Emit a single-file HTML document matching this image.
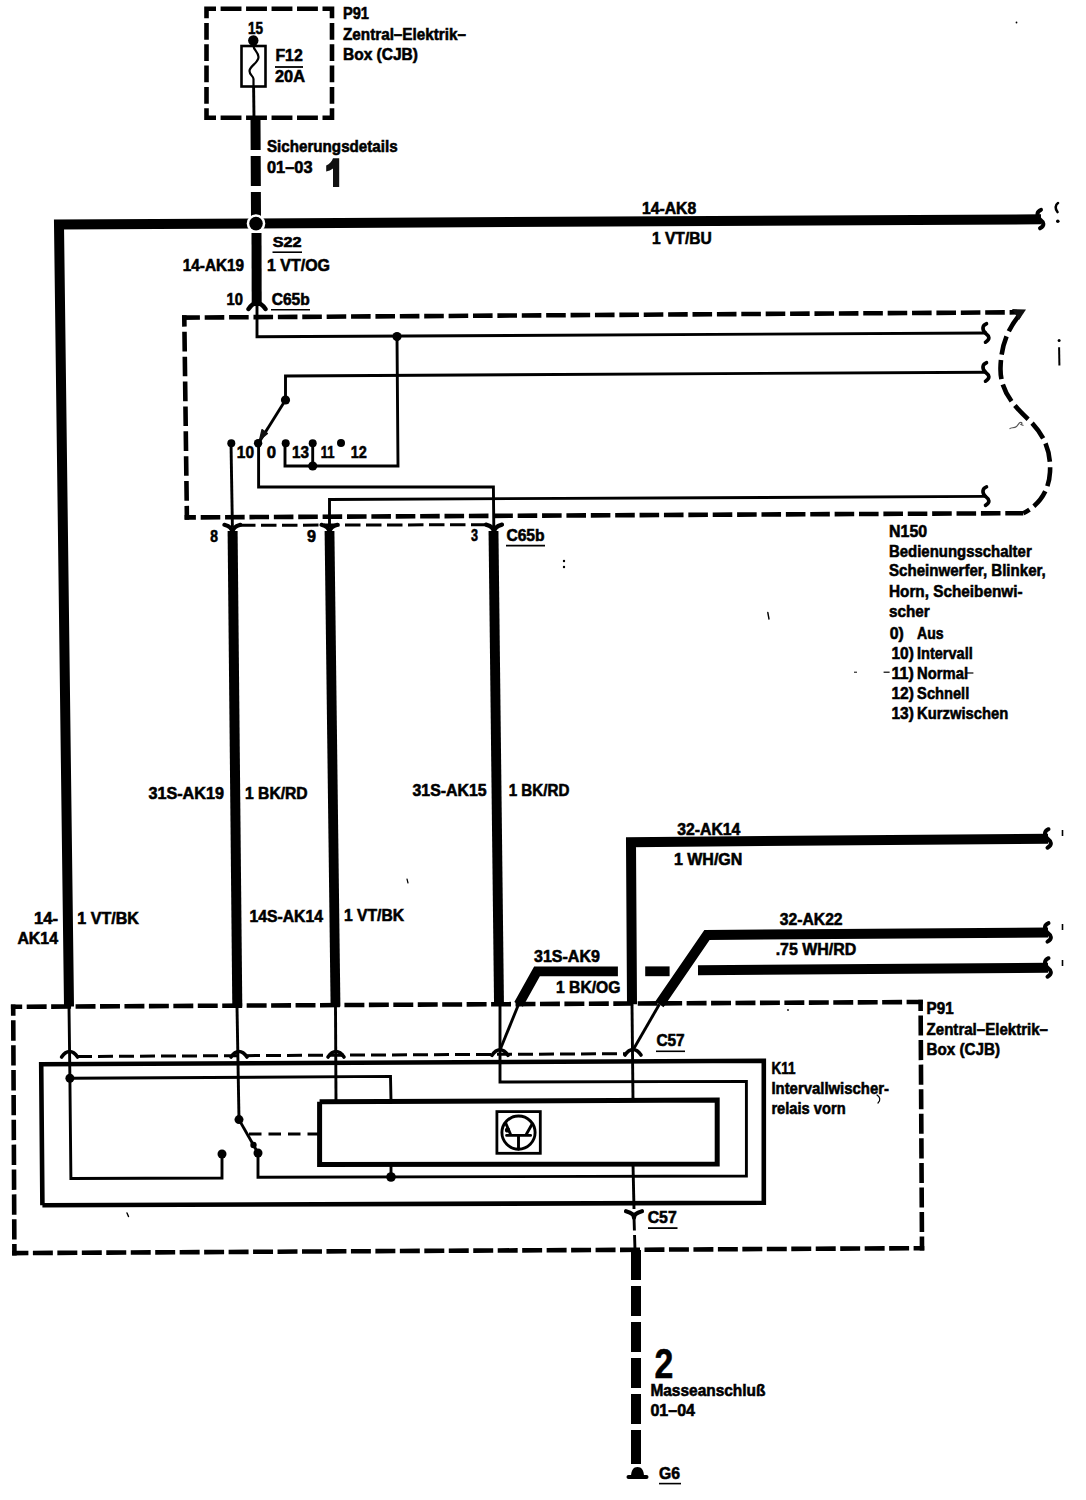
<!DOCTYPE html>
<html><head><meta charset="utf-8"><title>Wiring diagram</title>
<style>
html,body{margin:0;padding:0;background:#fff;}
body{width:1086px;height:1500px;overflow:hidden;}
svg{display:block;}
text{font-family:"Liberation Sans",sans-serif;font-weight:bold;fill:#000;stroke:#000;stroke-width:0.6px;}
</style></head><body>
<svg width="1086" height="1500" viewBox="0 0 1086 1500" stroke="#000" fill="none">
<rect x="0" y="0" width="1086" height="1500" fill="#fff" stroke="none"/>
<path d="M204.2,8.8 L216,8.8 M220.6,8.8 L241.47,8.8 M246.07,8.8 L266.95,8.8 M271.55,8.8 L292.43,8.8 M297.02,8.8 L317.9,8.8 M322.5,8.8 L334.3,8.8 M332,6.5 L332,18.3 M332,22.9 L332,39.65 M332,44.25 L332,61 M332,65.6 L332,82.35 M332,86.95 L332,103.7 M332,108.3 L332,120.1 M334.3,117.8 L322.5,117.8 M317.9,117.8 L297.02,117.8 M292.43,117.8 L271.55,117.8 M266.95,117.8 L246.07,117.8 M241.47,117.8 L220.6,117.8 M216,117.8 L204.2,117.8 M206.5,120.1 L206.5,108.3 M206.5,103.7 L206.5,86.95 M206.5,82.35 L206.5,65.6 M206.5,61 L206.5,44.25 M206.5,39.65 L206.5,22.9 M206.5,18.3 L206.5,6.5" stroke-width="4.6" stroke-linecap="butt"/>
<rect x="241.5" y="46" width="24" height="40.5" fill="none" stroke-width="2.6"/>
<path d="M253.5,46 C253.5,50 258.5,52 258.5,57 C258.5,63 249.5,66 249.5,71 C249.5,75 253.5,76 253.5,79 L253.5,86.5" stroke-width="2.2" stroke-linecap="round" stroke-linejoin="round" fill="none"/>
<circle cx="253.3" cy="40.5" r="5.2" fill="#000" stroke="none"/>
<path d="M253.6,86.5 L254,118" stroke-width="2.9" stroke-linecap="butt" stroke-linejoin="miter"/>
<text x="248" y="33.6" font-size="17.14" textLength="15" lengthAdjust="spacingAndGlyphs">15</text>
<text x="275.4" y="61" font-size="17.14" textLength="27.3" lengthAdjust="spacingAndGlyphs">F12</text>
<path d="M275,67 L303,67" stroke-width="1.8" stroke-linecap="butt" stroke-linejoin="miter"/>
<text x="275" y="81.7" font-size="17.14" textLength="30.01" lengthAdjust="spacingAndGlyphs">20A</text>
<text x="343" y="18.9" font-size="17.14" textLength="26" lengthAdjust="spacingAndGlyphs">P91</text>
<text x="343" y="39.8" font-size="17.14" textLength="122.99" lengthAdjust="spacingAndGlyphs">Zentral–Elektrik–</text>
<text x="343" y="60.4" font-size="17.14" textLength="74.99" lengthAdjust="spacingAndGlyphs">Box (CJB)</text>
<path d="M255.5,120 L256,217" stroke-width="10" stroke-linecap="butt" stroke-linejoin="miter" stroke-dasharray="30 6" stroke-dashoffset="0"/>
<text x="267" y="152" font-size="17.14" textLength="130.6" lengthAdjust="spacingAndGlyphs">Sicherungsdetails</text>
<text x="267" y="172.6" font-size="17.14" textLength="45.5" lengthAdjust="spacingAndGlyphs">01–03</text>
<path d="M333,158.3 L339.2,158.3 L339.2,187 L333,187 L333,168.5 C331,170 328.5,171 326.2,171.5 L326.2,165.5 C329.5,164 332,161.5 333,158.3 Z" fill="#111" stroke="none"/>
<path d="M1041,219.3 L59,224.5 L69,1006.5" stroke-width="10" stroke-linecap="butt" stroke-linejoin="miter"/>
<path d="M1041,209.8 C1037,211.3 1036,215.3 1040,219.3 C1044,222.3 1045,225.3 1040,228.3" stroke-width="4" stroke-linecap="round" stroke-linejoin="round" fill="none"/>
<path d="M1058,203 C1055,205 1055,209 1057.5,212" stroke-width="2.6" stroke-linecap="round" stroke-linejoin="round" fill="none"/>
<circle cx="1057.8" cy="221.3" r="1.8" fill="#000" stroke="none"/>
<circle cx="256" cy="223.6" r="9.3" fill="#fff" stroke="none"/>
<circle cx="256" cy="223.6" r="6.8" fill="#000" stroke="none"/>
<text x="642" y="214.3" font-size="17.14" textLength="54.2" lengthAdjust="spacingAndGlyphs">14-AK8</text>
<text x="652" y="243.6" font-size="17.14" textLength="59.7" lengthAdjust="spacingAndGlyphs">1 VT/BU</text>
<path d="M256.5,233 L256.7,306" stroke-width="10" stroke-linecap="butt" stroke-linejoin="miter"/>
<path d="M248.5,309 C252,304 254,303 257,303 C260,303 262,304 265.5,309" stroke-width="4.4" stroke-linecap="round" stroke-linejoin="round" fill="none"/>
<text x="272.8" y="246.7" font-size="13.71" textLength="28.71" lengthAdjust="spacingAndGlyphs">S22</text>
<path d="M272.5,252.2 L302,252.2" stroke-width="1.6" stroke-linecap="butt" stroke-linejoin="miter"/>
<text x="267" y="271.4" font-size="17.14" textLength="63" lengthAdjust="spacingAndGlyphs">1 VT/OG</text>
<text x="182.8" y="271.4" font-size="17.14" textLength="61.2" lengthAdjust="spacingAndGlyphs">14-AK19</text>
<text x="226.6" y="304.8" font-size="17.14" textLength="16.4" lengthAdjust="spacingAndGlyphs">10</text>
<text x="271.7" y="304.6" font-size="17.14" textLength="38.01" lengthAdjust="spacingAndGlyphs">C65b</text>
<path d="M271,309.8 L310,309.8" stroke-width="1.6" stroke-linecap="butt" stroke-linejoin="miter"/>
<path d="M184.6,517.41 L195.9,517.35 M200.7,517.33 L220.28,517.23 M225.08,517.21 L244.66,517.11 M249.46,517.09 L269.05,516.99 M273.85,516.96 L293.43,516.87 M298.23,516.84 L317.81,516.74 M322.61,516.72 L342.19,516.62 M346.99,516.6 L366.57,516.5 M371.37,516.47 L390.95,516.38 M395.75,516.35 L415.34,516.25 M420.14,516.23 L439.72,516.13 M444.52,516.11 L464.1,516.01 M468.9,515.98 L488.48,515.89 M493.28,515.86 L512.86,515.76 M517.66,515.74 L537.25,515.64 M542.05,515.62 L561.63,515.52 M566.43,515.49 L586.01,515.4 M590.81,515.37 L610.39,515.27 M615.19,515.25 L634.77,515.15 M639.57,515.13 L659.15,515.03 M663.95,515 L683.54,514.91 M688.34,514.88 L707.92,514.78 M712.72,514.76 L732.3,514.66 M737.1,514.64 L756.68,514.54 M761.48,514.51 L781.06,514.42 M785.86,514.39 L805.45,514.29 M810.25,514.27 L829.83,514.17 M834.63,514.15 L854.21,514.05 M859.01,514.02 L878.59,513.93 M883.39,513.9 L902.97,513.8 M907.77,513.78 L927.35,513.68 M932.15,513.66 L951.74,513.56 M956.54,513.54 L976.12,513.44 M980.92,513.41 L1000.5,513.31 M1005.3,513.29 L1023.3,513.2" stroke-width="4.6" stroke-linecap="butt"/>
<path d="M186.93,519.7 L186.75,505.9 M186.68,500.7 L186.43,481.03 M186.36,475.83 L186.1,456.16 M186.04,450.96 L185.78,431.29 M185.71,426.09 L185.46,406.41 M185.39,401.21 L185.13,381.54 M185.06,376.34 L184.81,356.67 M184.74,351.47 L184.48,331.8 M184.42,326.6 L184.27,315.3" stroke-width="4.6" stroke-linecap="butt"/>
<path d="M182,317.61 L199.9,317.5 M204.7,317.47 L224.29,317.35 M229.09,317.32 L248.68,317.19 M253.48,317.16 L273.07,317.04 M277.87,317.01 L297.46,316.88 M302.26,316.85 L321.85,316.73 M326.65,316.7 L346.25,316.57 M351.05,316.54 L370.64,316.42 M375.44,316.39 L395.03,316.27 M399.83,316.24 L419.42,316.11 M424.22,316.08 L443.81,315.96 M448.61,315.93 L468.2,315.8 M473,315.77 L492.59,315.65 M497.39,315.62 L516.98,315.49 M521.78,315.46 L541.37,315.34 M546.17,315.31 L565.76,315.19 M570.56,315.16 L590.15,315.03 M594.95,315 L614.55,314.88 M619.35,314.85 L638.94,314.72 M643.74,314.69 L663.33,314.57 M668.13,314.54 L687.72,314.41 M692.52,314.38 L712.11,314.26 M716.91,314.23 L736.5,314.1 M741.3,314.07 L760.89,313.95 M765.69,313.92 L785.28,313.8 M790.08,313.77 L809.67,313.64 M814.47,313.61 L834.06,313.49 M838.86,313.46 L858.45,313.33 M863.25,313.3 L882.85,313.18 M887.65,313.15 L907.24,313.02 M912.04,312.99 L931.63,312.87 M936.43,312.84 L956.02,312.72 M960.82,312.68 L980.41,312.56 M985.21,312.53 L1004.8,312.41 M1009.6,312.38 L1021.6,312.3" stroke-width="4.6" stroke-linecap="butt"/>
<path d="M1021.6,312.3 C1008,328 1001,345 1000.5,368 C1000,392 1015,407 1030,421 C1045,436 1051,452 1050,472 C1049,492 1038,506 1023.3,513.2" stroke-width="4.6" stroke-linecap="butt" stroke-linejoin="miter" fill="none" stroke-dasharray="19 5.5" stroke-dashoffset="-4"/>
<path d="M1012,309 L1026,309.5 L1019,320 Z" fill="#111" stroke="none"/>
<path d="M257,306 L257,336.8 L987,333" stroke-width="2.9" stroke-linecap="butt" stroke-linejoin="miter"/>
<path d="M986.5,323.7 C982.5,325.2 981.5,329.2 985.5,333.2 C989.5,336.2 990.5,339.2 985.5,342.2" stroke-width="3.6" stroke-linecap="round" stroke-linejoin="round" fill="none"/>
<circle cx="397" cy="336.6" r="4.6" fill="#000" stroke="none"/>
<path d="M397,336.6 L398,466 L285,466 L285,443" stroke-width="2.9" stroke-linecap="butt" stroke-linejoin="miter"/>
<path d="M312.7,443 L312.7,466" stroke-width="2.9" stroke-linecap="butt" stroke-linejoin="miter"/>
<circle cx="285.7" cy="443.3" r="4" fill="#000" stroke="none"/>
<circle cx="312.7" cy="443.3" r="4" fill="#000" stroke="none"/>
<circle cx="312.7" cy="466" r="4.6" fill="#000" stroke="none"/>
<circle cx="341" cy="443" r="4" fill="#000" stroke="none"/>
<path d="M987,372.2 L285.5,376 L285.5,400" stroke-width="2.9" stroke-linecap="butt" stroke-linejoin="miter"/>
<path d="M986.5,362.7 C982.5,364.2 981.5,368.2 985.5,372.2 C989.5,375.2 990.5,378.2 985.5,381.2" stroke-width="3.6" stroke-linecap="round" stroke-linejoin="round" fill="none"/>
<circle cx="285.5" cy="400" r="4.6" fill="#000" stroke="none"/>
<path d="M285.5,400 L258.6,443" stroke-width="2.9" stroke-linecap="butt" stroke-linejoin="miter"/>
<path d="M259.5,440 L262,429.5 L267.5,433.5 Z" fill="#111" stroke="#111" stroke-width="1.2" stroke-linejoin="round"/>
<circle cx="258.1" cy="443.3" r="4.2" fill="#000" stroke="none"/>
<circle cx="231.3" cy="443.3" r="4" fill="#000" stroke="none"/>
<path d="M258.6,443 L258.6,487 L493.4,487 L493.8,527" stroke-width="2.9" stroke-linecap="butt" stroke-linejoin="miter"/>
<path d="M231,443 L232.4,527" stroke-width="2.9" stroke-linecap="butt" stroke-linejoin="miter"/>
<path d="M329.5,527 L329.5,499.5 L987,496.4" stroke-width="2.9" stroke-linecap="butt" stroke-linejoin="miter"/>
<path d="M986.5,486.9 C982.5,488.4 981.5,492.4 985.5,496.4 C989.5,499.4 990.5,502.4 985.5,505.4" stroke-width="3.6" stroke-linecap="round" stroke-linejoin="round" fill="none"/>
<text x="236.8" y="458.4" font-size="17.14" textLength="17.2" lengthAdjust="spacingAndGlyphs">10</text>
<text x="266.7" y="458.4" font-size="17.14" textLength="9.3" lengthAdjust="spacingAndGlyphs">0</text>
<text x="292" y="458.4" font-size="17.14" textLength="17" lengthAdjust="spacingAndGlyphs">13</text>
<text x="320.8" y="458.4" font-size="17.14" textLength="13.8" lengthAdjust="spacingAndGlyphs">11</text>
<text x="350.7" y="458.4" font-size="17.14" textLength="16.1" lengthAdjust="spacingAndGlyphs">12</text>
<path d="M240,525.3 L489,524.7" stroke-width="3" stroke-linecap="butt" stroke-linejoin="miter" stroke-dasharray="15.5 5.5" stroke-dashoffset="0"/>
<path d="M224.4,524.8 C228.4,525.8 232.4,527.8 232.4,532.8 C232.4,527.8 236.4,525.8 240.4,524.8" stroke-width="4.2" stroke-linecap="round" stroke-linejoin="round" fill="none"/>
<path d="M321.5,524.8 C325.5,525.8 329.5,527.8 329.5,532.8 C329.5,527.8 333.5,525.8 337.5,524.8" stroke-width="4.2" stroke-linecap="round" stroke-linejoin="round" fill="none"/>
<path d="M486,524.6 C490,525.6 494,527.6 494,532.6 C494,527.6 498,525.6 502,524.6" stroke-width="4.2" stroke-linecap="round" stroke-linejoin="round" fill="none"/>
<text x="210.2" y="542.2" font-size="17.14" textLength="7.7" lengthAdjust="spacingAndGlyphs">8</text>
<text x="307" y="541.8" font-size="17.14" textLength="9" lengthAdjust="spacingAndGlyphs">9</text>
<text x="471" y="540.5" font-size="17.14" textLength="7" lengthAdjust="spacingAndGlyphs">3</text>
<text x="506.4" y="540.5" font-size="17.14" textLength="38.21" lengthAdjust="spacingAndGlyphs">C65b</text>
<path d="M506,545.6 L545,545.6" stroke-width="1.6" stroke-linecap="butt" stroke-linejoin="miter"/>
<path d="M232.6,531 L237.3,1006.5" stroke-width="10" stroke-linecap="butt" stroke-linejoin="miter"/>
<path d="M329.5,531 L335.5,1006.5" stroke-width="9.8" stroke-linecap="butt" stroke-linejoin="miter"/>
<path d="M493.5,531 L499,1004.3" stroke-width="9.9" stroke-linecap="butt" stroke-linejoin="miter"/>
<text x="889.1" y="536.6" font-size="17.14" textLength="38.09" lengthAdjust="spacingAndGlyphs">N150</text>
<text x="889" y="556.5" font-size="17.14" textLength="142.7" lengthAdjust="spacingAndGlyphs">Bedienungsschalter</text>
<text x="889" y="576.4" font-size="17.14" textLength="156.79" lengthAdjust="spacingAndGlyphs">Scheinwerfer, Blinker,</text>
<text x="889" y="597" font-size="17.14" textLength="133.5" lengthAdjust="spacingAndGlyphs">Horn, Scheibenwi-</text>
<text x="889" y="617" font-size="17.14" textLength="40.71" lengthAdjust="spacingAndGlyphs">scher</text>
<text x="889.8" y="639" font-size="17.14" textLength="14.1" lengthAdjust="spacingAndGlyphs">0)</text>
<text x="917.1" y="639" font-size="17.14" textLength="26.6" lengthAdjust="spacingAndGlyphs">Aus</text>
<text x="891.4" y="658.9" font-size="17.14" textLength="22.41" lengthAdjust="spacingAndGlyphs">10)</text>
<text x="917.1" y="658.9" font-size="17.14" textLength="55.6" lengthAdjust="spacingAndGlyphs">Intervall</text>
<text x="891.4" y="678.8" font-size="17.14" textLength="22.4" lengthAdjust="spacingAndGlyphs">11)</text>
<text x="917.1" y="678.8" font-size="17.14" textLength="50.9" lengthAdjust="spacingAndGlyphs">Normal</text>
<text x="891.4" y="698.7" font-size="17.14" textLength="22.41" lengthAdjust="spacingAndGlyphs">12)</text>
<text x="917.1" y="698.7" font-size="17.14" textLength="52.19" lengthAdjust="spacingAndGlyphs">Schnell</text>
<text x="891.4" y="718.6" font-size="17.14" textLength="22.41" lengthAdjust="spacingAndGlyphs">13)</text>
<text x="917.1" y="718.6" font-size="17.14" textLength="91.2" lengthAdjust="spacingAndGlyphs">Kurzwischen</text>
<text x="148.4" y="798.5" font-size="17.14" textLength="75.6" lengthAdjust="spacingAndGlyphs">31S-AK19</text>
<text x="245" y="798.5" font-size="17.14" textLength="62.69" lengthAdjust="spacingAndGlyphs">1 BK/RD</text>
<text x="412.5" y="796" font-size="17.14" textLength="74.1" lengthAdjust="spacingAndGlyphs">31S-AK15</text>
<text x="508.7" y="796" font-size="17.14" textLength="60.69" lengthAdjust="spacingAndGlyphs">1 BK/RD</text>
<text x="677.2" y="834.5" font-size="17.14" textLength="63.2" lengthAdjust="spacingAndGlyphs">32-AK14</text>
<text x="673.9" y="864.7" font-size="17.14" textLength="68.5" lengthAdjust="spacingAndGlyphs">1 WH/GN</text>
<text x="34" y="924" font-size="17.14" textLength="24.01" lengthAdjust="spacingAndGlyphs">14-</text>
<text x="17.4" y="944" font-size="17.14" textLength="40.59" lengthAdjust="spacingAndGlyphs">AK14</text>
<text x="77.3" y="924" font-size="17.14" textLength="61.7" lengthAdjust="spacingAndGlyphs">1 VT/BK</text>
<text x="249.4" y="921.6" font-size="17.14" textLength="73.6" lengthAdjust="spacingAndGlyphs">14S-AK14</text>
<text x="344" y="921.4" font-size="17.14" textLength="60" lengthAdjust="spacingAndGlyphs">1 VT/BK</text>
<text x="779.8" y="925.3" font-size="17.14" textLength="62.8" lengthAdjust="spacingAndGlyphs">32-AK22</text>
<text x="775.7" y="955" font-size="17.14" textLength="80.6" lengthAdjust="spacingAndGlyphs">.75 WH/RD</text>
<text x="534" y="962" font-size="17.14" textLength="65.9" lengthAdjust="spacingAndGlyphs">31S-AK9</text>
<text x="556" y="992.5" font-size="17.14" textLength="64.5" lengthAdjust="spacingAndGlyphs">1 BK/OG</text>
<path d="M1048,838.7 L631,842.2 L632,1004.3" stroke-width="10" stroke-linecap="butt" stroke-linejoin="miter"/>
<path d="M1048.5,829.2 C1044.5,830.7 1043.5,834.7 1047.5,838.7 C1051.5,841.7 1052.5,844.7 1047.5,847.7" stroke-width="4" stroke-linecap="round" stroke-linejoin="round" fill="none"/>
<path d="M1048,932.6 L707,935 L659.4,1004.3" stroke-width="10" stroke-linecap="butt" stroke-linejoin="miter"/>
<path d="M1048.5,923.1 C1044.5,924.6 1043.5,928.6 1047.5,932.6 C1051.5,935.6 1052.5,938.6 1047.5,941.6" stroke-width="4" stroke-linecap="round" stroke-linejoin="round" fill="none"/>
<path d="M1048,967.7 L698,970.3" stroke-width="10" stroke-linecap="butt" stroke-linejoin="miter"/>
<path d="M1048.5,958.2 C1044.5,959.7 1043.5,963.7 1047.5,967.7 C1051.5,970.7 1052.5,973.7 1047.5,976.7" stroke-width="4" stroke-linecap="round" stroke-linejoin="round" fill="none"/>
<path d="M645.2,971.3 L669.6,971.3" stroke-width="9.8" stroke-linecap="butt" stroke-linejoin="miter"/>
<path d="M617.9,971.3 L537,971.3 L518.6,1004.3" stroke-width="9.8" stroke-linecap="butt" stroke-linejoin="miter"/>
<path d="M1062.5,830 L1062.5,836" stroke-width="1.6" stroke-linecap="butt" stroke-linejoin="miter"/>
<path d="M1062.5,924 L1062.5,930" stroke-width="1.6" stroke-linecap="butt" stroke-linejoin="miter"/>
<path d="M1062.5,960 L1062.5,966" stroke-width="1.6" stroke-linecap="butt" stroke-linejoin="miter"/>
<path d="M14.41,1255.4 L14.36,1244.1 M14.33,1239.6 L14.23,1219.23 M14.21,1214.73 L14.11,1194.37 M14.09,1189.87 L13.99,1169.5 M13.97,1165 L13.87,1144.63 M13.85,1140.13 L13.75,1119.77 M13.73,1115.27 L13.63,1094.9 M13.61,1090.4 L13.51,1070.03 M13.49,1065.53 L13.39,1045.17 M13.37,1040.67 L13.27,1020.3 M13.24,1015.8 L13.19,1004.5" stroke-width="4.6" stroke-linecap="butt"/>
<path d="M10.9,1006.81 L22.2,1006.75 M26.7,1006.73 L46.64,1006.62 M51.14,1006.6 L71.08,1006.49 M75.58,1006.47 L95.52,1006.36 M100.02,1006.34 L119.97,1006.24 M124.47,1006.21 L144.41,1006.11 M148.91,1006.08 L168.85,1005.98 M173.35,1005.95 L193.29,1005.85 M197.79,1005.82 L217.73,1005.72 M222.23,1005.69 L242.17,1005.59 M246.67,1005.56 L266.62,1005.46 M271.12,1005.44 L291.06,1005.33 M295.56,1005.31 L315.5,1005.2 M320,1005.18 L339.94,1005.07 M344.44,1005.05 L364.38,1004.94 M368.88,1004.92 L388.83,1004.81 M393.32,1004.79 L413.27,1004.68 M417.77,1004.66 L437.71,1004.55 M442.21,1004.53 L462.15,1004.43 M466.65,1004.4 L486.59,1004.3 M491.09,1004.27 L511.03,1004.17 M515.53,1004.14 L535.48,1004.04 M539.98,1004.01 L559.92,1003.91 M564.42,1003.88 L584.36,1003.78 M588.86,1003.75 L608.8,1003.65 M613.3,1003.63 L633.24,1003.52 M637.74,1003.5 L657.68,1003.39 M662.18,1003.37 L682.13,1003.26 M686.63,1003.24 L706.57,1003.13 M711.07,1003.11 L731.01,1003 M735.51,1002.98 L755.45,1002.87 M759.95,1002.85 L779.89,1002.74 M784.39,1002.72 L804.33,1002.62 M808.83,1002.59 L828.78,1002.49 M833.28,1002.46 L853.22,1002.36 M857.72,1002.33 L877.66,1002.23 M882.16,1002.2 L902.1,1002.1 M906.6,1002.07 L922.9,1001.99" stroke-width="4.6" stroke-linecap="butt"/>
<path d="M920.59,999.7 L920.65,1011 M920.68,1015.5 L920.79,1035.57 M920.82,1040.07 L920.93,1060.13 M920.96,1064.63 L921.07,1084.7 M921.1,1089.2 L921.21,1109.27 M921.24,1113.77 L921.35,1133.83 M921.38,1138.33 L921.49,1158.4 M921.51,1162.9 L921.63,1182.97 M921.65,1187.47 L921.77,1207.53 M921.79,1212.03 L921.91,1232.1 M921.93,1236.6 L922.01,1250.5" stroke-width="4.6" stroke-linecap="butt"/>
<path d="M12.1,1253.11 L28.4,1253.02 M32.9,1253 L52.86,1252.89 M57.36,1252.87 L77.33,1252.76 M81.83,1252.74 L101.79,1252.63 M106.29,1252.6 L126.26,1252.5 M130.76,1252.47 L150.72,1252.36 M155.22,1252.34 L175.18,1252.23 M179.68,1252.21 L199.65,1252.1 M204.15,1252.08 L224.11,1251.97 M228.61,1251.94 L248.57,1251.84 M253.07,1251.81 L273.04,1251.7 M277.54,1251.68 L297.5,1251.57 M302,1251.55 L321.97,1251.44 M326.47,1251.42 L346.43,1251.31 M350.93,1251.28 L370.89,1251.18 M375.39,1251.15 L395.36,1251.04 M399.86,1251.02 L419.82,1250.91 M424.32,1250.89 L444.29,1250.78 M448.79,1250.75 L468.75,1250.65 M473.25,1250.62 L493.21,1250.51 M497.71,1250.49 L517.68,1250.38 M522.18,1250.36 L542.14,1250.25 M546.64,1250.23 L566.61,1250.12 M571.11,1250.09 L591.07,1249.99 M595.57,1249.96 L615.53,1249.85 M620.03,1249.83 L640,1249.72 M644.5,1249.7 L664.46,1249.59 M668.96,1249.57 L688.93,1249.46 M693.43,1249.43 L713.39,1249.33 M717.89,1249.3 L737.85,1249.19 M742.35,1249.17 L762.32,1249.06 M766.82,1249.04 L786.78,1248.93 M791.28,1248.91 L811.24,1248.8 M815.74,1248.77 L835.71,1248.67 M840.21,1248.64 L860.17,1248.53 M864.67,1248.51 L884.64,1248.4 M889.14,1248.38 L909.1,1248.27 M913.6,1248.25 L924.3,1248.19" stroke-width="4.6" stroke-linecap="butt"/>
<text x="926.6" y="1014" font-size="17.14" textLength="27" lengthAdjust="spacingAndGlyphs">P91</text>
<text x="926.6" y="1035" font-size="17.14" textLength="121.39" lengthAdjust="spacingAndGlyphs">Zentral–Elektrik–</text>
<text x="926.6" y="1055.4" font-size="17.14" textLength="73.39" lengthAdjust="spacingAndGlyphs">Box (CJB)</text>
<path d="M69,1006.5 L69.9,1078.3 L70.9,1178.5 L222,1178 L222,1154" stroke-width="2.9" stroke-linecap="butt" stroke-linejoin="miter"/>
<circle cx="69.9" cy="1078.3" r="4.5" fill="#000" stroke="none"/>
<circle cx="222" cy="1154" r="4.5" fill="#000" stroke="none"/>
<path d="M69.9,1078.3 L390.5,1076.4 L391,1101" stroke-width="2.9" stroke-linecap="butt" stroke-linejoin="miter"/>
<path d="M237,1006.5 L239,1119.6" stroke-width="2.9" stroke-linecap="butt" stroke-linejoin="miter"/>
<circle cx="239" cy="1119.6" r="4.5" fill="#000" stroke="none"/>
<path d="M239,1119.6 L258,1153" stroke-width="2.9" stroke-linecap="butt" stroke-linejoin="miter"/>
<circle cx="253.5" cy="1145" r="3.2" fill="#000" stroke="none"/>
<circle cx="258" cy="1153" r="4.5" fill="#000" stroke="none"/>
<path d="M258,1153 L258,1177.3 L746.4,1176 L746.4,1081.4 L500,1082 L500,1004.3" stroke-width="2.9" stroke-linecap="butt" stroke-linejoin="miter"/>
<path d="M335.5,1006.5 L336,1101.8" stroke-width="2.9" stroke-linecap="butt" stroke-linejoin="miter"/>
<path d="M632,1004.3 L633,1100" stroke-width="2.9" stroke-linecap="butt" stroke-linejoin="miter"/>
<path d="M633,1164 L634,1209" stroke-width="2.9" stroke-linecap="butt" stroke-linejoin="miter"/>
<path d="M249,1134 L319.6,1134" stroke-width="2.9" stroke-linecap="butt" stroke-linejoin="miter" stroke-dasharray="12.5 7" stroke-dashoffset="0"/>
<path d="M518.6,1004.3 L500,1050" stroke-width="2.9" stroke-linecap="butt" stroke-linejoin="miter"/>
<path d="M659.4,1004.3 L633,1050" stroke-width="2.9" stroke-linecap="butt" stroke-linejoin="miter"/>
<circle cx="391" cy="1177" r="4.8" fill="#000" stroke="none"/>
<path d="M391,1164.5 L391,1177" stroke-width="2.9" stroke-linecap="butt" stroke-linejoin="miter"/>
<path d="M77,1056.5 L625,1053.7" stroke-width="3" stroke-linecap="butt" stroke-linejoin="miter" stroke-dasharray="15 6" stroke-dashoffset="0"/>
<path d="M61.6,1057 C64.6,1052.5 66.6,1051.5 69.6,1051.5 C72.6,1051.5 74.6,1052.5 77.6,1057" stroke-width="3.6" stroke-linecap="round" stroke-linejoin="round" fill="none"/>
<path d="M231,1057 C234,1052.5 236,1051.5 239,1051.5 C242,1051.5 244,1052.5 247,1057" stroke-width="3.6" stroke-linecap="round" stroke-linejoin="round" fill="none"/>
<path d="M328,1057 C331,1052.5 333,1051.5 336,1051.5 C339,1051.5 341,1052.5 344,1057" stroke-width="3.6" stroke-linecap="round" stroke-linejoin="round" fill="none"/>
<path d="M492,1055.3 C495,1050.8 497,1049.8 500,1049.8 C503,1049.8 505,1050.8 508,1055.3" stroke-width="3.6" stroke-linecap="round" stroke-linejoin="round" fill="none"/>
<path d="M625,1055 C628,1050.5 630,1049.5 633,1049.5 C636,1049.5 638,1050.5 641,1055" stroke-width="3.6" stroke-linecap="round" stroke-linejoin="round" fill="none"/>
<path d="M42.4,1205.2 L41.2,1064.3 L763.8,1060.8 L763.8,1202.8 L42.4,1205.2" stroke-width="4.6" stroke-linecap="butt" stroke-linejoin="miter"/>
<path d="M319.6,1101.8 L717.2,1100 L717.2,1164 L319.6,1164.5 L319.6,1101.8" stroke-width="5" stroke-linecap="butt" stroke-linejoin="miter"/>
<rect x="496.9" y="1111.6" width="43.4" height="41.7" fill="none" stroke-width="2.8"/>
<circle cx="518.5" cy="1132.6" r="16.6" fill="none" stroke-width="2.9"/>
<path d="M506.6,1135.4 L530.6,1135.4 M518.5,1135.4 L518.5,1149 M506,1123.8 L510.4,1134 M526.5,1134 L532,1124.3" stroke-width="2.9" stroke-linecap="round" stroke-linejoin="round" fill="none"/>
<circle cx="507.5" cy="1130" r="2.6" fill="#000" stroke="none"/>
<text x="656.4" y="1045.5" font-size="17.14" textLength="28.31" lengthAdjust="spacingAndGlyphs">C57</text>
<path d="M656,1051.3 L685,1051.3" stroke-width="1.6" stroke-linecap="butt" stroke-linejoin="miter"/>
<text x="771.4" y="1073.5" font-size="17.14" textLength="24" lengthAdjust="spacingAndGlyphs">K11</text>
<text x="771.4" y="1093.6" font-size="17.14" textLength="117.6" lengthAdjust="spacingAndGlyphs">Intervallwischer-</text>
<text x="771.4" y="1113.7" font-size="17.14" textLength="74.2" lengthAdjust="spacingAndGlyphs">relais vorn</text>
<path d="M626,1211.2 C630,1212.2 634,1214.2 634,1217.7 C634,1214.2 638,1212.2 642,1211.2" stroke-width="4.2" stroke-linecap="round" stroke-linejoin="round" fill="none"/>
<path d="M634,1217 L635,1250" stroke-width="2.9" stroke-linecap="butt" stroke-linejoin="miter" stroke-dasharray="13.5 4.5" stroke-dashoffset="0"/>
<text x="647.7" y="1223" font-size="17.14" textLength="29.01" lengthAdjust="spacingAndGlyphs">C57</text>
<path d="M648,1228.1 L677.5,1228.1" stroke-width="1.8" stroke-linecap="butt" stroke-linejoin="miter"/>
<path d="M636,1250 L636,1464" stroke-width="10" stroke-linecap="butt" stroke-linejoin="miter" stroke-dasharray="30 6 30 6 30 6 30 6 30 6 34 6" stroke-dashoffset="0"/>
<path d="M628.5,1477 L646.5,1477" stroke-width="4" stroke-linecap="round" stroke-linejoin="round" fill="none"/>
<path d="M631,1477 C631,1470 633.5,1467 637.5,1467 C641.5,1467 644,1470 644,1477 Z" fill="#000" stroke="none"/>
<text x="654.6" y="1378.1" font-size="41.86" textLength="18.81" lengthAdjust="spacingAndGlyphs">2</text>
<text x="650.4" y="1396" font-size="17.14" textLength="115.1" lengthAdjust="spacingAndGlyphs">Masseanschluß</text>
<text x="650.4" y="1416" font-size="17.14" textLength="44.6" lengthAdjust="spacingAndGlyphs">01–04</text>
<text x="659" y="1479" font-size="17.14" textLength="21" lengthAdjust="spacingAndGlyphs">G6</text>
<path d="M659,1483.6 L681,1483.6" stroke-width="1.6" stroke-linecap="butt" stroke-linejoin="miter"/>
<circle cx="564" cy="561" r="1.2" fill="#000" stroke="none"/>
<circle cx="564" cy="567" r="1.2" fill="#000" stroke="none"/>
<circle cx="1059.1" cy="340.6" r="1.5" fill="#000" stroke="none"/>
<path d="M1059.1,347.3 L1059.4,365.4" stroke-width="2" stroke-linecap="butt" stroke-linejoin="miter"/>
<path d="M1009.5,429 C1011,427 1014,428.5 1016.5,426.5 L1019.5,422.8 C1021.5,421.8 1023,423 1021,424.5 L1023.5,425.5" stroke="#555" stroke-width="1.1" fill="none"/>
<circle cx="1016.5" cy="22.5" r="0.9" fill="#000" stroke="none"/>
<path d="M767.8,612.5 L769,619" stroke-width="1.4" stroke-linecap="round" stroke-linejoin="round" fill="none"/>
<path d="M854,672.2 L857,672.2" stroke-width="1" stroke-linecap="butt" stroke-linejoin="miter"/>
<path d="M883.6,672.2 L889.6,672.2" stroke-width="1.2" stroke-linecap="butt" stroke-linejoin="miter"/>
<path d="M966,673 L973.4,673" stroke-width="1.2" stroke-linecap="butt" stroke-linejoin="miter"/>
<path d="M407,879 L408,883" stroke-width="1.2" stroke-linecap="round" stroke-linejoin="round" fill="none"/>
<path d="M127,1213 L128.5,1216.5" stroke-width="1.4" stroke-linecap="round" stroke-linejoin="round" fill="none"/>
<circle cx="788" cy="1010" r="0.9" fill="#000" stroke="none"/>
<path d="M877,1095 C880,1097 881,1100 878,1103" stroke-width="1.2" stroke-linecap="round" stroke-linejoin="round" fill="none"/>
</svg>
</body></html>
